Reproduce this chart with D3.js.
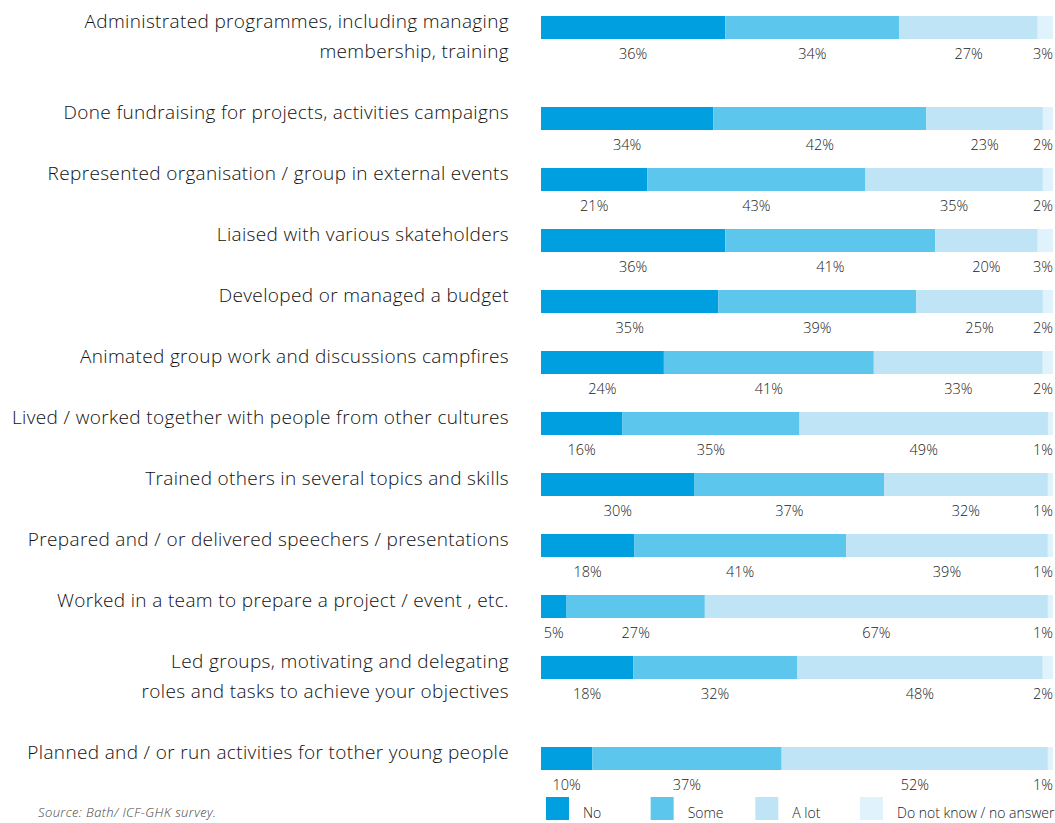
<!DOCTYPE html>
<html><head><meta charset="utf-8">
<script src="https://cdn.jsdelivr.net/npm/d3@7"></script>
<style>
html,body{margin:0;padding:0;background:#fff;}
svg{display:block;}
</style></head>
<body>
<svg id="chart" width="1055" height="823"></svg>
<script>
const categories = [
  ["Administrated programmes, including managing", "membership, training"],
  ["Done fundraising for projects, activities campaigns"],
  ["Represented organisation / group in external events"],
  ["Liaised with various skateholders"],
  ["Developed or managed a budget"],
  ["Animated group work and discussions campfires"],
  ["Lived / worked together with people from other cultures"],
  ["Trained others in several topics and skills"],
  ["Prepared and / or delivered speechers / presentations"],
  ["Worked in a team to prepare a project / event , etc."],
  ["Led groups, motivating and delegating", "roles and tasks to achieve your objectives"],
  ["Planned and / or run activities for tother young people"]
];
const seriesNames = ["No", "Some", "A lot", "Do not know / no answer"];
const no       = [36, 34, 21, 36, 35, 24, 16, 30, 18, 5, 18, 10];
const some     = [34, 42, 43, 41, 39, 41, 35, 37, 41, 27, 32, 37];
const alot     = [27, 23, 35, 20, 25, 33, 49, 32, 39, 67, 48, 52];
const dontknow = [3, 2, 2, 3, 2, 2, 1, 1, 1, 1, 2, 1];
const source = "Source: Bath/ ICF-GHK survey.";

const colors = ["#009fe0", "#5dc6ed", "#bee4f6", "#e0f2fb"];
const series = [no, some, alot, dontknow];

const svg = d3.select("#chart");
const fontLabel = "'Open Sans', 'Liberation Sans', sans-serif";

const x0 = 541, x1 = 1053;
const barH = 23;
const rowTops = [];
let yy = 16;
categories.forEach(c => { rowTops.push(yy); yy += 61 + (c.length - 1) * 30; });

categories.forEach((cat, i) => {
  const vals = series.map(s => s[i]);
  const total = d3.sum(vals);
  const x = d3.scaleLinear().domain([0, total]).range([x0, x1]);
  const stack = d3.cumsum(vals);
  const top = rowTops[i];
  const g = svg.append("g");
  g.selectAll("rect").data(vals).join("rect")
    .attr("x", (d, j) => x(stack[j] - d))
    .attr("y", top)
    .attr("width", (d, j) => x(stack[j]) - x(stack[j] - d))
    .attr("height", barH)
    .attr("fill", (d, j) => colors[j]);
  g.selectAll("text.pct").data(vals).join("text")
    .attr("class", "pct")
    .attr("x", (d, j) => {
      const c = (x(stack[j]) + x(stack[j] - d)) / 2;
      return Math.max(x0 + 11, Math.min(x1 - 10, c));
    })
    .attr("y", top + 43)
    .attr("text-anchor", "middle")
    .attr("font-family", fontLabel)
    .attr("font-weight", 300)
    .attr("font-size", 14.5)
    .attr("fill", "#222")
    .text(d => d + "%");
  cat.forEach((line, k) => {
    svg.append("text")
      .attr("x", 509)
      .attr("y", top + 12 + k * 30)
      .attr("text-anchor", "end")
      .attr("font-family", fontLabel)
      .attr("font-weight", 300)
      .attr("font-size", 19)
      .attr("letter-spacing", 0.35)
      .attr("fill", "#111")
      .text(line);
  });
});

const legX = d3.scalePoint().domain(seriesNames).range([546, 860]);
const leg = svg.append("g");
seriesNames.forEach((n, j) => {
  leg.append("rect").attr("x", legX(n)).attr("y", 797).attr("width", 23).attr("height", 23).attr("fill", colors[j]);
  leg.append("text").attr("x", legX(n) + 37).attr("y", 818)
    .attr("font-family", fontLabel).attr("font-weight", 300).attr("font-size", 14).attr("fill", "#222").text(n);
});

svg.append("text").attr("x", 38).attr("y", 817)
  .attr("font-family", fontLabel).attr("font-style", "italic").attr("font-weight", 300)
  .attr("font-size", 13).attr("letter-spacing", 0.4).attr("fill", "#444").text(source);
</script>
</body></html>
